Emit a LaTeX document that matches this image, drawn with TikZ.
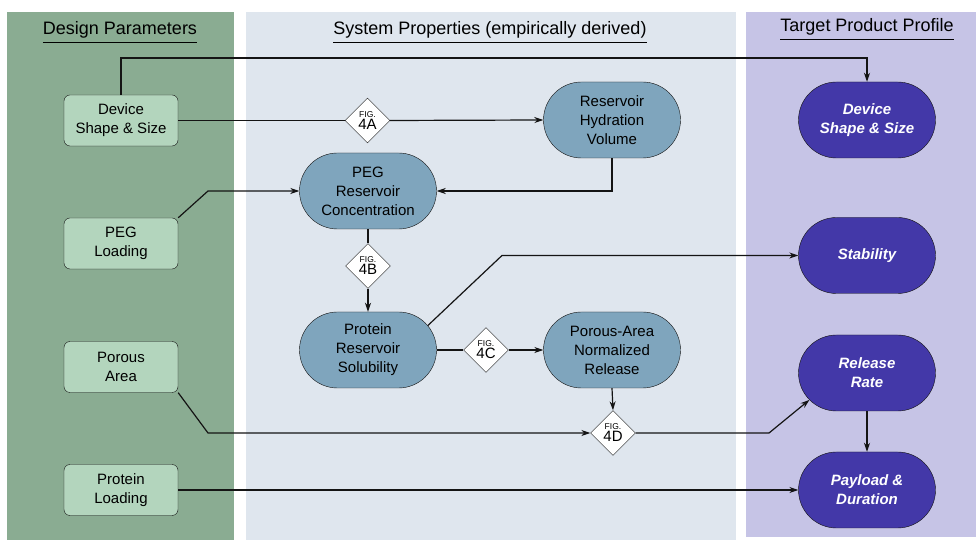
\documentclass[tikz,border=0pt]{standalone}
\usepackage{fontspec}
\setmainfont{Liberation Sans}
\usepackage{xcolor}
\usetikzlibrary{shapes.geometric, shapes.misc, arrows.meta, positioning, calc}
\definecolor{designgreen}{HTML}{8AAC92}
\definecolor{paramgreen}{HTML}{B3D5BD}
\definecolor{systemgray}{HTML}{DFE6EE}
\definecolor{propblue}{HTML}{7FA5BD}
\definecolor{targetlilac}{HTML}{C6C4E6}
\definecolor{targetpurple}{HTML}{4338A8}
\definecolor{darkline}{RGB}{20, 20, 20}

\begin{document}
\begin{tikzpicture}[
    x=1pt, y=1pt,
    header/.style={anchor=base, inner sep=0pt, font=\fontsize{18}{21}\selectfont},
    param/.style={rectangle, rounded corners=6pt, draw=darkline, fill=paramgreen, minimum width=114pt, minimum height=51pt, align=center, font=\fontsize{15}{19}\selectfont},
    prop/.style={rounded rectangle, draw=darkline, fill=propblue, minimum width=137pt, minimum height=76pt, inner sep=0pt, align=center, font=\fontsize{15}{19}\selectfont},
    target/.style={prop, fill=targetpurple, text=white, font=\fontsize{15}{19}\selectfont\bfseries\itshape},
    fig/.style={diamond, draw=darkline, fill=white, minimum width=45pt, minimum height=45pt, inner sep=0pt, align=center},
    arrow/.style={line width=1.2pt, ->, >={Stealth[length=9pt, width=6pt]}, draw=darkline},
    link/.style={line width=1.2pt, draw=darkline}
]
\useasboundingbox (0,0) rectangle (976,540);

% Panels
\fill [designgreen] (7,0) rectangle (234,528);
\fill [systemgray] (246,0) rectangle (736,528);
\fill [targetlilac] (746,3) rectangle (976,528);

% Headers
\node (hdesign) [header] at (120,505) {Design Parameters};
\node (hsystem) [header] at (490,505) {System Properties (empirically derived)};
\node (htarget) [header] at (867,508) {Target Product Profile};
\draw [thick] ([yshift=-7pt]hdesign.base west) -- ([yshift=-7pt]hdesign.base east);
\draw [thick] ([yshift=-7pt]hsystem.base west) -- ([yshift=-7pt]hsystem.base east);
\draw [thick] ([yshift=-7pt]htarget.base west) -- ([yshift=-7pt]htarget.base east);

% Design parameters
\node (pdevice) [param] at (121,419.5) {Device\\Shape \& Size};
\node (ppeg) [param] at (121,296.5) {PEG\\Loading};
\node (pporous) [param] at (121,173) {Porous\\Area};
\node (pprotein) [param] at (121,50) {Protein\\Loading};

% System properties
\node (sconc) [prop] at (368,349) {PEG\\Reservoir\\Concentration};
\node (shydra) [prop] at (612,420) {Reservoir\\Hydration\\Volume};
\node (ssolub) [prop] at (368,190) {Protein\\Reservoir\\Solubility};
\node (snorm) [prop] at (612,190) {Porous-Area\\Normalized\\Release};

% Figure markers
\node (fig4a) [fig] at (367.5,419.5) {\fontsize{8.5}{8}\selectfont FIG.\\\fontsize{15}{12}\selectfont 4A};
\node (fig4b) [fig] at (368,274) {\fontsize{8.5}{8}\selectfont FIG.\\\fontsize{15}{12}\selectfont 4B};
\node (fig4c) [fig] at (486,190) {\fontsize{8.5}{8}\selectfont FIG.\\\fontsize{15}{12}\selectfont 4C};
\node (fig4d) [fig] at (613,107) {\fontsize{8.5}{8}\selectfont FIG.\\\fontsize{15}{12}\selectfont 4D};

% Target product profile
\node (tdevice) [target] at (867,420) {Device\\Shape \& Size};
\node (tstab) [target] at (867,284.5) {Stability};
\node (trate) [target] at (867,167) {Release\\Rate};
\node (tpay) [target] at (867,50) {Payload \&\\Duration};

% Bends
\coordinate (kdevice) at (121,482);
\coordinate (kpeg) at (208,349);
\coordinate (ksolub) at (502,284.5);
\coordinate (kporous) at (208,107);
\coordinate (krate) at (769,107);

% Connectors
\draw [arrow] (pdevice.north) -- (kdevice) -| (tdevice.north);
\draw [link] (pdevice.east) -- (fig4a.west);
\draw [arrow] (fig4a.east) -- (shydra.west);
\draw [arrow] (shydra.south) |- (sconc.east);
\draw [arrow] (ppeg.north east) -- (kpeg) -- (sconc.west);
\draw [link] (sconc.south) -- (fig4b.north);
\draw [arrow] (fig4b.south) -- (ssolub.north);
\draw [arrow] ($(ssolub.east)+(-38,0)+(40:38)$) -- (ksolub) -- (tstab.west);
\draw [link] (ssolub.east) -- (fig4c.west);
\draw [arrow] (fig4c.east) -- (snorm.west);
\draw [arrow] (snorm.south) -- (fig4d.north);
\draw [arrow] (pporous.south east) -- (kporous) -- (fig4d.west);
\draw [arrow] (fig4d.east) -- (krate) -- ($(trate.west)+(38,0)+(225:38)$);
\draw [arrow] (trate.south) -- (tpay.north);
\draw [arrow] (pprotein.east) -- (tpay.west);

\end{tikzpicture}
\end{document}
